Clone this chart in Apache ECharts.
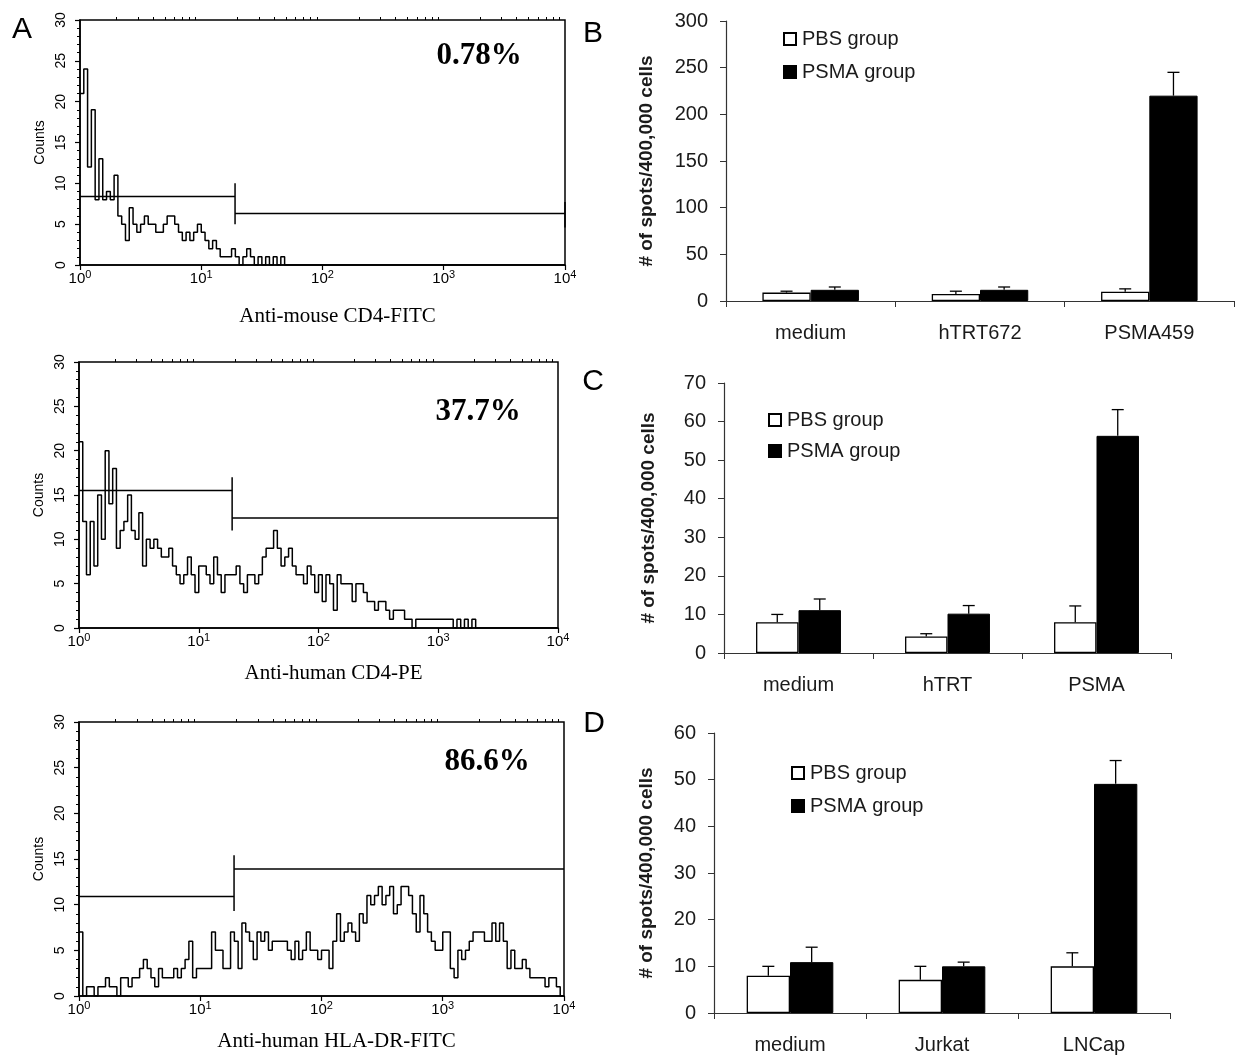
<!DOCTYPE html>
<html>
<head>
<meta charset="utf-8">
<script src="https://cdn.jsdelivr.net/npm/echarts@6/dist/echarts.min.js"></script>
<style>
  html, body { margin: 0; padding: 0; background: #fff; }
  #chart { width: 1235px; height: 1055px; }
</style>
</head>
<body>
<div id="chart"></div>
<script>
// ---- Flow cytometry histograms (A): counts per channel, 32 channels per decade, 10^0 .. 10^4 ----
const channelsPerDecade = 32;

const countsMouseCD4 = [
  21, 24, 12, 19, 8, 13, 8, 9, 8, 11,
  6, 5, 3, 7, 5, 4, 5, 6, 5, 5,
  4, 4, 5, 6, 6, 5, 4, 3, 4, 3,
  4, 5, 4, 3, 2, 3, 2, 1, 1, 1,
  2, 1, 0, 1, 2, 1, 0, 1, 0, 1,
  0, 1, 0, 1, 0, 0, 0, 0, 0, 0,
  0, 0, 0, 0, 0, 0, 0, 0, 0, 0,
  0, 0, 0, 0, 0, 0, 0, 0, 0, 0,
  0, 0, 0, 0, 0, 0, 0, 0, 0, 0,
  0, 0, 0, 0, 0, 0, 0, 0, 0, 0,
  0, 0, 0, 0, 0, 0, 0, 0, 0, 0,
  0, 0, 0, 0, 0, 0, 0, 0, 0, 0,
  0, 0, 0, 0, 0, 0, 0, 0
];

const countsHumanCD4 = [
  21, 12, 6, 12, 7, 15, 10, 20, 14, 18,
  9, 11, 12, 15, 11, 10, 13, 7, 10, 9,
  10, 9, 8, 8, 9, 7, 6, 5, 6, 8,
  6, 4, 7, 7, 6, 5, 8, 6, 4, 6,
  6, 6, 7, 5, 4, 6, 6, 5, 6, 8,
  9, 9, 11, 9, 7, 8, 9, 7, 6, 6,
  5, 7, 6, 4, 6, 3, 6, 5, 2, 6,
  5, 5, 5, 3, 5, 5, 4, 3, 3, 2,
  3, 3, 2, 1, 2, 2, 2, 1, 1, 0,
  1, 1, 1, 1, 1, 1, 1, 1, 1, 1,
  0, 1, 0, 1, 0, 1, 0, 0, 0, 0,
  0, 0, 0, 0, 0, 0, 0, 0, 0, 0,
  0, 0, 0, 0, 0, 0, 0, 0
];

const countsHLADR = [
  7, 0, 1, 1, 0, 1, 1, 2, 1, 1,
  0, 2, 2, 1, 2, 2, 3, 4, 3, 2,
  1, 3, 2, 2, 2, 3, 2, 3, 4, 6,
  2, 3, 3, 3, 3, 7, 5, 5, 3, 3,
  7, 6, 3, 8, 7, 6, 4, 7, 6, 7,
  5, 6, 6, 6, 6, 5, 4, 6, 4, 5,
  7, 5, 5, 4, 5, 5, 3, 6, 9, 6,
  7, 8, 7, 6, 9, 8, 11, 10, 11, 12,
  10, 11, 12, 9, 10, 12, 12, 11, 9, 7,
  11, 9, 7, 6, 5, 5, 7, 7, 3, 2,
  5, 4, 5, 6, 7, 7, 7, 6, 6, 8,
  6, 8, 6, 3, 5, 3, 3, 4, 3, 2,
  2, 2, 2, 1, 2, 2, 1, 0
];

const histCounts = [countsMouseCD4, countsHumanCD4, countsHLADR];
const histTitles = ['Anti-mouse CD4-FITC', 'Anti-human CD4-PE', 'Anti-human HLA-DR-FITC'];
const percentLabels = ['0.78%', '37.7%', '86.6%'];

// gate markers (fluorescence value of the split, bar levels in counts)
const gateCut = [19, 19, 19];
const gateLeftLevel = [8.4, 15.5, 10.9];
const gateRightLevel = [6.3, 12.4, 13.9];
const gateMarkLow = [5, 11, 9.3];
const gateMarkHigh = [10, 17, 15.4];
const gateEndMark = [[4.6, 7.7], null, null];

const fluorMin = 1;
const fluorMax = 10000;
const countTicks = [0, 5, 10, 15, 20, 25, 30];
const minorFluorTicks = [
  2, 3, 4, 5, 6, 7, 8, 9,
  20, 30, 40, 50, 60, 70, 80, 90,
  200, 300, 400, 500, 600, 700, 800, 900,
  2000, 3000, 4000, 5000, 6000, 7000, 8000, 9000
];

// ---- ELISPOT bar charts (B, C, D) ----
const categoriesB = ['medium', 'hTRT672', 'PSMA459'];
const pbsB = [9, 7.5, 10];
const pbsErrB = [1.5, 3, 3];
const psmaB = [12, 12, 220];
const psmaErrB = [3, 3, 25];
const yTicksB = [0, 300, 50];

const categoriesC = ['medium', 'hTRT', 'PSMA'];
const pbsC = [8, 4.3, 8];
const pbsErrC = [2, 0.7, 4.2];
const psmaC = [11.1, 10.2, 56.3];
const psmaErrC = [2.9, 2.1, 6.8];
const yTicksC = [0, 70, 10];

const categoriesD = ['medium', 'Jurkat', 'LNCap'];
const pbsD = [8, 7.1, 10];
const pbsErrD = [2, 2.9, 2.9];
const psmaD = [10.9, 10, 49.1];
const psmaErrD = [3.2, 0.9, 5];
const yTicksD = [0, 60, 10];

const panelLetters = ['A', 'B', 'C', 'D'];
const legendNames = ['PBS group', 'PSMA group'];
const yAxisTitle = '# of spots/400,000 cells';

// ---- layout ----
const histGrids = [
  { left: 80, top: 20, width: 485, height: 245, titleGap: 41, pct: [479, 56] },
  { left: 79, top: 362, width: 479, height: 266, titleGap: 35, pct: [478, 412] },
  { left: 79, top: 722, width: 485, height: 274, titleGap: 35, pct: [487, 762] }
];
const barGrids = [
  { left: 726, top: 21, width: 508, height: 280, nameGap: 70, legendLeft: 778, legendTop: 24, legendGap: 13 },
  { left: 724, top: 383, width: 447, height: 270, nameGap: 66, legendLeft: 763, legendTop: 405, legendGap: 11 },
  { left: 714, top: 733, width: 456, height: 280, nameGap: 58, legendLeft: 786, legendTop: 758, legendGap: 13 }
];
const barFrac = 0.285;

const sansFont = '"Liberation Sans", Arial, Helvetica, sans-serif';
const serifFont = '"Liberation Serif", "Times New Roman", serif';

const grids = [];
const xAxes = [];
const yAxes = [];
const series = [];
const legends = [];
const graphics = [];

// histogram panels
histCounts.forEach(function (counts, i) {
  const g = histGrids[i];
  grids.push({
    left: g.left, top: g.top, width: g.width, height: g.height,
    show: true, borderColor: '#000', borderWidth: 1.5, backgroundColor: 'transparent'
  });
  xAxes.push({
    type: 'log', logBase: 10, gridIndex: i, min: fluorMin, max: fluorMax,
    axisLine: { lineStyle: { color: '#000', width: 1.5 } },
    axisTick: { show: true, length: 5, lineStyle: { color: '#000', width: 1.2 } },
    axisLabel: {
      margin: 4, color: '#000', fontFamily: sansFont, fontSize: 15,
      formatter: function (v) { return '{base|10}{sup|' + Math.round(Math.log10(v)) + '}'; },
      rich: {
        base: { fontSize: 15, fontFamily: sansFont, color: '#000' },
        sup: { fontSize: 11, fontFamily: sansFont, color: '#000', padding: [0, 0, 9, 0] }
      }
    },
    splitLine: { show: false },
    name: histTitles[i], nameLocation: 'middle', nameGap: g.titleGap,
    nameTextStyle: { fontFamily: serifFont, fontSize: 21, color: '#000', padding: [0, 0, 0, 30] }
  });
  xAxes.push({
    type: 'log', logBase: 10, gridIndex: i, min: fluorMin, max: fluorMax,
    axisLine: { show: false },
    axisLabel: { show: false },
    axisTick: { show: true, length: 3, customValues: minorFluorTicks, lineStyle: { color: '#000', width: 1 } },
    splitLine: { show: false }
  });
  yAxes.push({
    type: 'value', gridIndex: i, min: countTicks[0], max: countTicks[countTicks.length - 1], interval: 5,
    axisLine: { show: true, lineStyle: { color: '#000', width: 1.5 } },
    axisTick: { show: true, length: 5, lineStyle: { color: '#000', width: 1.2 } },
    minorTick: { show: true, splitNumber: 5, length: 3, lineStyle: { color: '#000', width: 1 } },
    axisLabel: { rotate: 90, margin: 12, color: '#000', fontFamily: sansFont, fontSize: 14 },
    splitLine: { show: false },
    name: 'Counts', nameLocation: 'middle', nameRotate: 90, nameGap: 33,
    nameTextStyle: { fontFamily: sansFont, fontSize: 14, color: '#000' }
  });

  const pts = counts.map(function (v, c) { return [Math.pow(10, c / channelsPerDecade), v]; });
  pts.push([fluorMax, counts[counts.length - 1]]);
  series.push({
    type: 'line', xAxisIndex: 2 * i, yAxisIndex: i, data: pts, step: 'end',
    showSymbol: false, symbol: 'none', silent: true,
    lineStyle: { color: '#000', width: 1.5 }
  });

  const gateStyle = { color: '#000', width: 1.5 };
  const gateSegments = [
    [[fluorMin, gateLeftLevel[i]], [gateCut[i], gateLeftLevel[i]]],
    [[gateCut[i], gateMarkLow[i]], [gateCut[i], gateMarkHigh[i]]],
    [[gateCut[i], gateRightLevel[i]], [fluorMax, gateRightLevel[i]]]
  ];
  if (gateEndMark[i]) {
    gateSegments.push([[fluorMax, gateEndMark[i][0]], [fluorMax, gateEndMark[i][1]]]);
  }
  gateSegments.forEach(function (seg) {
    series.push({
      type: 'line', xAxisIndex: 2 * i, yAxisIndex: i, data: seg,
      showSymbol: false, symbol: 'none', silent: true, clip: false,
      lineStyle: gateStyle
    });
  });

  graphics.push({
    type: 'text', x: g.pct[0], y: g.pct[1],
    style: {
      text: percentLabels[i], fill: '#000',
      font: 'bold 31px ' + serifFont, align: 'center', verticalAlign: 'middle'
    }
  });
});

// bar panels
const barSets = [
  [categoriesB, pbsB, pbsErrB, psmaB, psmaErrB, yTicksB],
  [categoriesC, pbsC, pbsErrC, psmaC, psmaErrC, yTicksC],
  [categoriesD, pbsD, pbsErrD, psmaD, psmaErrD, yTicksD]
];

function errorBar(side) {
  return function (params, api) {
    const idx = api.value(0);
    const val = api.value(1);
    const err = api.value(2);
    const base = api.coord([idx, val]);
    const top = api.coord([idx, val + err]);
    const band = api.size([1, 0])[0];
    const x = base[0] + side * band * barFrac / 2;
    const style = { stroke: '#000', lineWidth: 1.3 };
    return {
      type: 'group',
      children: [
        { type: 'line', shape: { x1: x, y1: base[1], x2: x, y2: top[1] }, style: style },
        { type: 'line', shape: { x1: x - 6, y1: top[1], x2: x + 6, y2: top[1] }, style: style }
      ]
    };
  };
}

barSets.forEach(function (set, j) {
  const cats = set[0], pbs = set[1], pbsErr = set[2], psma = set[3], psmaErr = set[4], yt = set[5];
  const g = barGrids[j];
  const gi = 3 + j;
  grids.push({ left: g.left, top: g.top, width: g.width, height: g.height, show: false });
  xAxes.push({
    type: 'category', gridIndex: gi, data: cats,
    axisLine: { lineStyle: { color: '#333', width: 1.2 } },
    axisTick: { show: true, length: 6, lineStyle: { color: '#333' } },
    axisLabel: { margin: 22, color: '#1a1a1a', fontFamily: sansFont, fontSize: 20 }
  });
  yAxes.push({
    type: 'value', gridIndex: gi, min: yt[0], max: yt[1], interval: yt[2],
    axisLine: { show: true, lineStyle: { color: '#333', width: 1.2 } },
    axisTick: { show: true, length: 6, lineStyle: { color: '#333' } },
    axisLabel: { margin: 18, color: '#1a1a1a', fontFamily: sansFont, fontSize: 20 },
    splitLine: { show: false },
    name: yAxisTitle, nameLocation: 'middle', nameRotate: 90, nameGap: g.nameGap,
    nameTextStyle: { fontFamily: sansFont, fontSize: 19, fontWeight: 'bold', color: '#1a1a1a' }
  });
  const xi = 6 + j;
  series.push({
    type: 'bar', name: legendNames[0], xAxisIndex: xi, yAxisIndex: gi, data: pbs,
    barWidth: (barFrac * 100) + '%', barGap: '0%',
    itemStyle: { color: '#fff', borderColor: '#000', borderWidth: 1.3 }
  });
  series.push({
    type: 'bar', name: legendNames[1], xAxisIndex: xi, yAxisIndex: gi, data: psma,
    barWidth: (barFrac * 100) + '%', barGap: '0%',
    itemStyle: { color: '#000', borderColor: '#000', borderWidth: 1 }
  });
  series.push({
    type: 'custom', name: 'PBS error', xAxisIndex: xi, yAxisIndex: gi, z: 5,
    renderItem: errorBar(-1), encode: { x: 0, y: 1 },
    data: pbs.map(function (v, k) { return [k, v, pbsErr[k]]; })
  });
  series.push({
    type: 'custom', name: 'PSMA error', xAxisIndex: xi, yAxisIndex: gi, z: 5,
    renderItem: errorBar(1), encode: { x: 0, y: 1 },
    data: psma.map(function (v, k) { return [k, v, psmaErr[k]]; })
  });
  legends.push({
    data: legendNames, orient: 'vertical', left: g.legendLeft, top: g.legendTop,
    itemWidth: 12, itemHeight: 12, itemGap: g.legendGap, icon: 'rect', selectedMode: false,
    textStyle: { fontFamily: sansFont, fontSize: 20, color: '#1a1a1a', padding: [0, 0, 0, 1] }
  });
});

// panel letters
const letterPos = [[22, 30], [593, 34], [593, 382], [594, 724]];
panelLetters.forEach(function (t, k) {
  graphics.push({
    type: 'text', x: letterPos[k][0], y: letterPos[k][1],
    style: { text: t, fill: '#000', font: '30px ' + sansFont, align: 'center', verticalAlign: 'middle' }
  });
});

const chart = echarts.init(document.getElementById('chart'), null, { renderer: 'canvas' });
chart.setOption({
  animation: false,
  backgroundColor: '#fff',
  grid: grids,
  xAxis: xAxes,
  yAxis: yAxes,
  legend: legends,
  series: series,
  graphic: graphics
});
</script>
</body>
</html>
